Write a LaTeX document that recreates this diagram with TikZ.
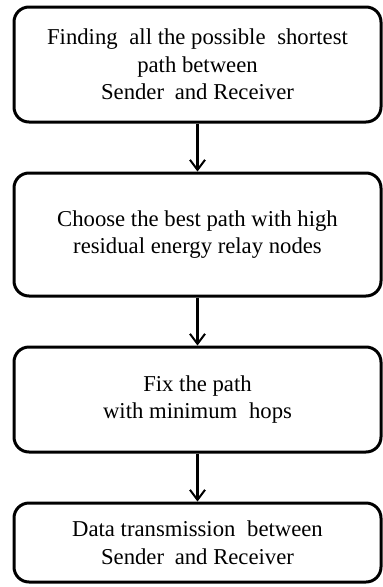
\documentclass[tikz,border=0pt]{standalone}
\usepackage{fontspec}
\setmainfont{Liberation Serif}
\usetikzlibrary{
    positioning,
    arrows.meta
}

\begin{document}
\begin{tikzpicture}[
    x=1pt, y=1pt,
    node distance=48pt,
    % Node styles
    stage/.style={rectangle, rounded corners=15pt, draw=black, line width=3pt,
        minimum width=367pt, align=center, font=\fontsize{22.7}{27.5}\selectfont},
    % Arrow styles
    arrow/.style={-{Straight Barb[length=10pt, width=15pt, line width=2pt]}, line width=2.2pt, draw=black}
]
\useasboundingbox (0,0) rectangle (383,-587);

% --- Stages ---
\node[stage, minimum height=115pt] (find) at (197.5,-64.5)
    {Finding\hspace{6pt} all the possible\hspace{6pt} shortest\\path between\\Sender\hspace{5pt} and Receiver};
\node[stage, minimum height=123pt] (choose) [below=of find]
    {Choose the best path with high\\residual energy relay nodes};
\node[stage, minimum height=105pt] (fix) [below=of choose, node distance=52pt]
    {Fix the path\\with minimum\hspace{6pt} hops};
\node[stage, minimum height=79pt] (send) [below=of fix]
    {Data transmission\hspace{6pt} between\\Sender\hspace{5pt} and Receiver};

% --- Arrows ---
\draw[arrow] (find) -- (choose);
\draw[arrow] (choose) -- (fix);
\draw[arrow] (fix) -- (send);

\end{tikzpicture}
\end{document}
